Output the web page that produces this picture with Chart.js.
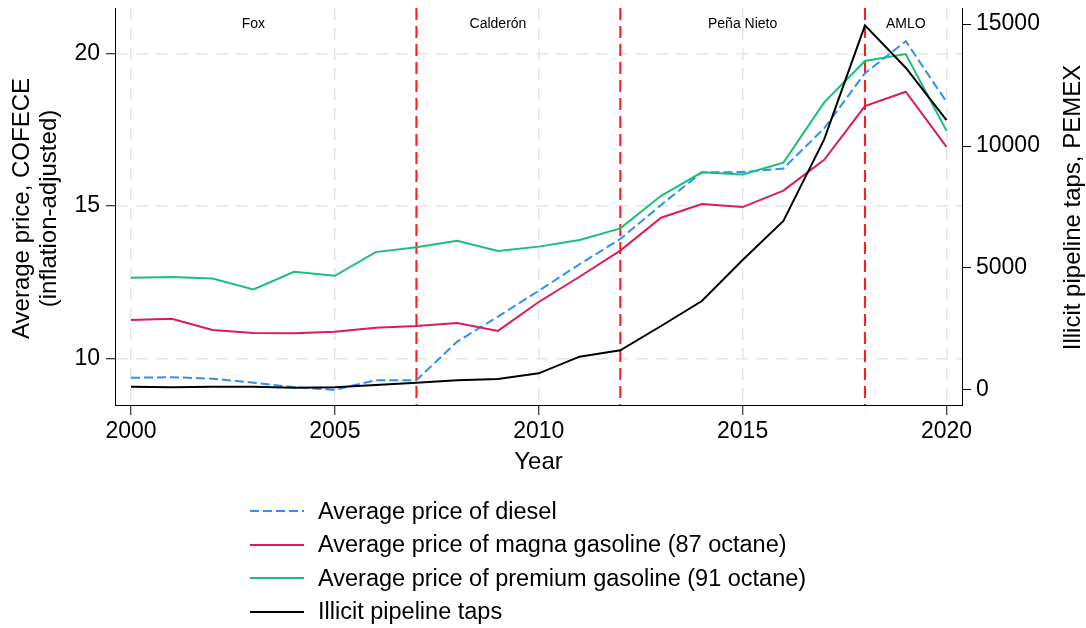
<!DOCTYPE html>
<html>
<head>
<meta charset="utf-8">
<script src="https://cdn.jsdelivr.net/npm/chart.js@4.4.1/dist/chart.umd.min.js"></script>
<style>
  html, body { margin: 0; padding: 0; background: #fff; }
  #wrap { position: relative; width: 1086px; height: 628px; font-family: "Liberation Sans", Arial, sans-serif; }
  #c { position: absolute; left: 0; top: 0; }
  .lg { position: absolute; left: 250px; height: 30px; display: flex; align-items: center; font-size: 23.5px; color: #000; white-space: nowrap; }
  .lg svg { width: 54px; height: 10px; margin-right: 14px; }
</style>
</head>
<body>
<div id="wrap">
  <canvas id="c" width="1086" height="628"></canvas>
  <div id="legend"></div>
</div>
<script>
// ---- data ----
const years = [2000,2001,2002,2003,2004,2005,2006,2007,2008,2009,2010,2011,2012,2013,2014,2015,2016,2017,2018,2019,2020];
const diesel  = [9.36,9.38,9.33,9.20,9.05,8.96,9.28,9.28,10.55,11.37,12.22,13.09,13.92,15.04,16.11,16.12,16.24,17.56,19.37,20.42,18.43];
const magna   = [11.26,11.30,10.93,10.83,10.82,10.87,11.00,11.06,11.16,10.90,11.85,12.68,13.54,14.62,15.07,14.97,15.51,16.52,18.29,18.76,16.95];
const premium = [12.65,12.67,12.62,12.26,12.84,12.71,13.49,13.65,13.86,13.53,13.67,13.89,14.27,15.34,16.11,16.04,16.43,18.41,19.77,20.00,17.48];
const taps    = [135,110,135,135,95,110,205,300,397,450,684,1366,1626,2623,3647,5327,6926,10273,14944,13208,11065];
const seriesNames = ["Average price of diesel","Average price of magna gasoline (87 octane)","Average price of premium gasoline (91 octane)","Illicit pipeline taps"];
const xTicks = [2000,2005,2010,2015,2020];
const yLeftTicks = [10,15,20];
const yRightTicks = [0,5000,10000,15000];
const termStarts = [2007,2012,2018];
const periodNames = ["Fox","Calderón","Peña Nieto","AMLO"];
const periodLabelYears = [2003,2009,2015,2019];

// ---- styles ----
const colors = ["#2f8ff8","#dc1a5c","#17c07b","#000000"];
const FONT = "'Liberation Sans', Arial, sans-serif";
const pts = arr => years.map((y,i)=>({x:y, y:arr[i]}));

const legend = document.getElementById('legend');
const legendY = [496, 529.5, 563, 596.5];
seriesNames.forEach((n,i)=>{
  const d = document.createElement('div');
  d.className = 'lg';
  d.style.top = legendY[i] + 'px';
  const dash = i===0 ? 'stroke-dasharray="9 4"' : '';
  d.innerHTML = `<svg viewBox="0 0 54 10"><line x1="0" y1="5" x2="54" y2="5" stroke="${colors[i]}" stroke-width="2" ${dash}/></svg><span>${n}</span>`;
  legend.appendChild(d);
});

const setTicks = list => scale => { scale.ticks = list.map(v=>({value:v})); };
const fitV = w => s => { s.width = w; s.paddingTop = 0; s.paddingBottom = 0; };
const fitH = h => s => { s.height = h; s.paddingLeft = 0; s.paddingRight = 0; };

const overlay = {
  id: 'overlay',
  beforeDatasetsDraw(chart) {
    const {ctx, chartArea, scales} = chart;
    ctx.save();
    ctx.strokeStyle = '#ff1a1a';
    ctx.lineWidth = 2;
    ctx.setLineDash([12,6]);
    termStarts.forEach(t=>{
      const x = scales.x.getPixelForValue(t);
      ctx.beginPath(); ctx.moveTo(x, chartArea.top); ctx.lineTo(x, chartArea.bottom); ctx.stroke();
    });
    ctx.restore();
  },
  afterDraw(chart) {
    const {ctx, chartArea, scales} = chart;
    ctx.save();
    ctx.fillStyle = '#000';
    ctx.textAlign = 'center';
    ctx.textBaseline = 'middle';
    ctx.font = `14px ${FONT}`;
    periodNames.forEach((n,i)=>{
      ctx.fillText(n, scales.x.getPixelForValue(periodLabelYears[i]), chartArea.top + 16);
    });
    ctx.font = `24px ${FONT}`;
    const cx = (chartArea.left + chartArea.right)/2;
    const cy = (chartArea.top + chartArea.bottom)/2;
    ctx.fillText('Year', cx, 462);
    ctx.save();
    ctx.translate(22, cy + 2); ctx.rotate(-Math.PI/2);
    ctx.fillText('Average price, COFECE', 0, 0);
    ctx.restore();
    ctx.save();
    ctx.translate(49, cy + 2); ctx.rotate(-Math.PI/2);
    ctx.fillText('(inflation-adjusted)', 0, 0);
    ctx.restore();
    ctx.save();
    ctx.translate(1073, cy + 1); ctx.rotate(-Math.PI/2);
    ctx.fillText('Illicit pipeline taps, PEMEX', 0, 0);
    ctx.restore();
    ctx.restore();
  }
};

new Chart(document.getElementById('c'), {
  type: 'line',
  data: {
    datasets: [
      {label: seriesNames[0], data: pts(diesel), borderColor: colors[0], borderDash: [9,4], yAxisID: 'y', order: 4},
      {label: seriesNames[1], data: pts(magna), borderColor: colors[1], yAxisID: 'y', order: 3},
      {label: seriesNames[2], data: pts(premium), borderColor: colors[2], yAxisID: 'y', order: 2},
      {label: seriesNames[3], data: pts(taps), borderColor: colors[3], yAxisID: 'y1', order: 1}
    ]
  },
  options: {
    responsive: false,
    animation: false,
    devicePixelRatio: 1,
    layout: { padding: { top: 8, left: 0, right: 0, bottom: 0 } },
    elements: { point: { radius: 0 }, line: { borderWidth: 2, tension: 0 } },
    plugins: { legend: { display: false }, tooltip: { enabled: false } },
    scales: {
      x: {
        type: 'linear', position: 'bottom',
        min: 1999.608, max: 2020.38,
        afterBuildTicks: setTicks(xTicks),
        afterFit: fitH(223),
        grid: { color: '#e6e6e6', lineWidth: 1.5, tickLength: 10, tickColor: '#000', tickWidth: 1 },
        border: { color: '#000', width: 1, dash: [12,8] },
        ticks: { font: { family: FONT, size: 23 }, color: '#000', padding: 3, maxRotation: 0, callback: v => String(v) }
      },
      y: {
        type: 'linear', position: 'left',
        min: 8.465, max: 21.512,
        afterBuildTicks: setTicks(yLeftTicks),
        afterFit: fitV(115),
        grid: { color: '#e6e6e6', lineWidth: 1.5, tickLength: 9, tickColor: '#000', tickWidth: 1 },
        border: { color: '#000', width: 1, dash: [12,8] },
        ticks: { font: { family: FONT, size: 23 }, color: '#000', padding: 6, callback: v => String(v) }
      },
      y1: {
        type: 'linear', position: 'right',
        min: -615, max: 15656,
        afterBuildTicks: setTicks(yRightTicks),
        afterFit: fitV(124),
        grid: { drawOnChartArea: false, tickLength: 9, tickColor: '#000', tickWidth: 1 },
        border: { color: '#000', width: 1 },
        ticks: { font: { family: FONT, size: 23 }, color: '#000', padding: 5, callback: v => String(v) }
      }
    }
  },
  plugins: [overlay]
});
</script>
</body>
</html>
